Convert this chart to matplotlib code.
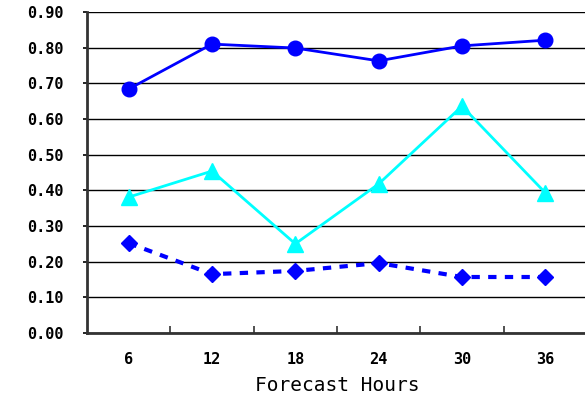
import numpy as np
import matplotlib
matplotlib.use('Agg')
import matplotlib.pyplot as plt

hours = ['6', '12', '18', '24', '30', '36']
circle_vals = [0.684, 0.810, 0.799, 0.763, 0.805, 0.821]
triangle_vals = [0.381, 0.454, 0.250, 0.418, 0.636, 0.393]
diamond_vals = [0.252, 0.165, 0.174, 0.196, 0.157, 0.157]
yticks = [0.0, 0.1, 0.2, 0.3, 0.4, 0.5, 0.6, 0.7, 0.8, 0.9]

fig = plt.figure(figsize=(5.85, 3.99), dpi=100)
ax = fig.add_axes([87/585, 1-333/399, 500/585, 321/399])

x = np.arange(len(hours))
ax.plot(x, circle_vals, '-o', color='#0000FF', lw=2, markersize=10.5, zorder=3)
ax.plot(x, triangle_vals, '-^', color='#00FFFF', lw=2, markersize=11, zorder=3)
ax.plot(x, diamond_vals, 'D', color='#0000FF', ls=(0, (2, 2)), lw=3,
        markersize=8.5, zorder=3)

ax.set_xlim(-0.5, len(hours) - 0.5)
ax.set_ylim(0, 0.9)
ax.set_yticks(yticks)
ax.set_yticklabels(['%.2f' % v for v in yticks], family='DejaVu Sans Mono',
                   fontweight='bold', fontsize=11)
ax.yaxis.grid(True, color='black', lw=1.0)
ax.set_axisbelow(True)

ax.set_xticks(np.arange(len(hours)) + 0.5)
ax.set_xticklabels([])
ax.set_xticks(x, minor=True)
ax.set_xticklabels(hours, minor=True, family='DejaVu Sans Mono',
                   fontweight='bold', fontsize=11)
ax.tick_params(axis='x', which='major', direction='in', length=5, width=1.2, color='#333333')
ax.tick_params(axis='x', which='minor', length=0, pad=14)
ax.tick_params(axis='y', direction='out', length=3, width=1.2, pad=14)

ax.set_xlabel('Forecast Hours', family='DejaVu Sans Mono', fontsize=14, labelpad=6)

for s in ['top', 'right']:
    ax.spines[s].set_visible(False)
ax.spines['left'].set_linewidth(2)
ax.spines['left'].set_color('#333333')
ax.spines['bottom'].set_linewidth(2)
ax.spines['bottom'].set_color('#333333')

plt.savefig('out.png', dpi=100)
